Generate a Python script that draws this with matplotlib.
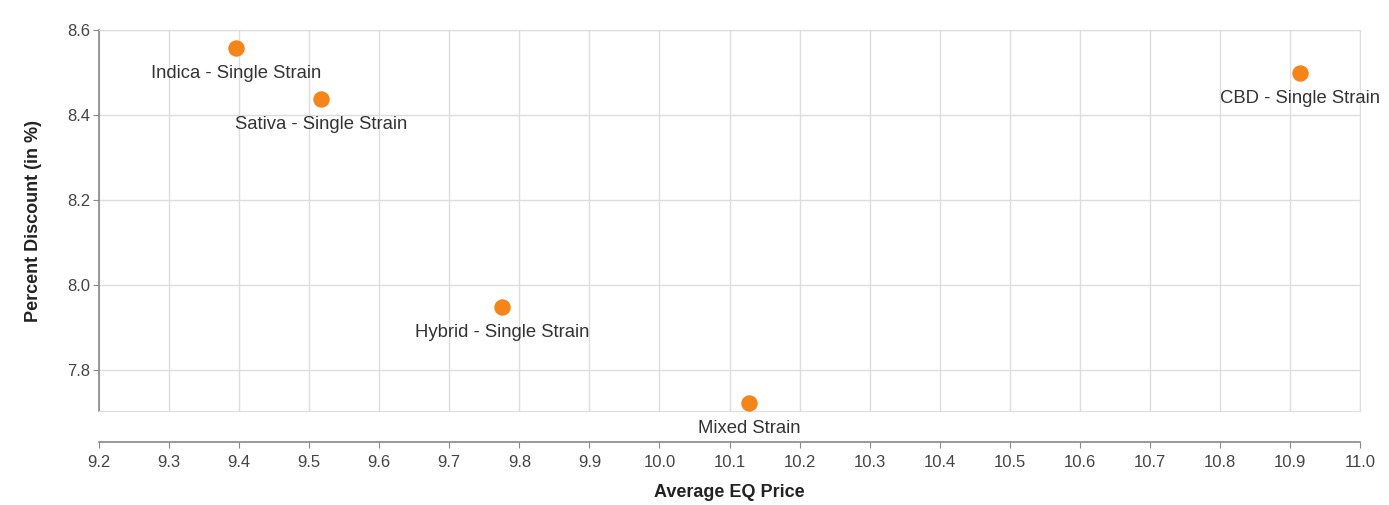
import matplotlib.pyplot as plt
import numpy as np

plt.rcParams['font.family'] = ['Liberation Sans', 'DejaVu Sans']

# data
categories = ["Indica - Single Strain", "Sativa - Single Strain", "Hybrid - Single Strain",
              "Mixed Strain", "CBD - Single Strain"]
avg_price = [9.396, 9.517, 9.775, 10.128, 10.914]
pct_discount = [8.558, 8.438, 7.948, 7.722, 8.499]

x_ticks = np.round(np.arange(9.2, 11.01, 0.1), 1)
y_ticks = [7.8, 8.0, 8.2, 8.4, 8.6]

fig = plt.figure(figsize=(13.89, 5.05), dpi=100)
ax = fig.add_axes([99/1389, 94/505, 1261/1389, 381/505])

ax.scatter(avg_price, pct_discount, s=140, color="#f58518", zorder=3, linewidths=0)
for name, x, y in zip(categories, avg_price, pct_discount):
    ax.annotate(name, (x, y), xytext=(0, -26), textcoords='offset pixels',
                ha='center', va='center', fontsize=13.3, color="#333333", zorder=4)

ax.set_xlim(9.2, 11.0)
ax.set_ylim(7.703, 8.6)
ax.set_xticks(x_ticks)
ax.set_xticklabels([f"{v:.1f}" for v in x_ticks])
ax.set_yticks(y_ticks)
ax.set_yticklabels([f"{v:.1f}" for v in y_ticks])

ax.grid(True, color="#dddddd", linewidth=1)
ax.set_axisbelow(True)
for s in ['top', 'right', 'bottom']:
    ax.spines[s].set_color("#dddddd")
ax.spines['left'].set_color("#888888")
ax.spines['left'].set_linewidth(1.2)

# detached x axis below the plot
ax2 = ax.twiny()
ax2.set_xlim(ax.get_xlim())
ax2.xaxis.set_ticks_position('bottom')
ax2.xaxis.set_label_position('bottom')
ax2.spines['bottom'].set_position(('outward', 22.3))
for s in ['top', 'right', 'left']:
    ax2.spines[s].set_visible(False)
ax2.spines['bottom'].set_color("#888888")
ax2.spines['bottom'].set_linewidth(1.2)
ax2.set_xticks(x_ticks)
ax2.set_xticklabels([f"{v:.1f}" for v in x_ticks])
ax.tick_params(axis='x', bottom=False, labelbottom=False, top=False)

ax2.tick_params(axis='x', colors="#888888", labelcolor="#444444", labelsize=12, length=4.3, pad=5)
ax.tick_params(axis='y', colors="#888888", labelcolor="#444444", labelsize=12, length=4.3, pad=2)

ax2.set_xlabel("Average EQ Price", fontsize=13, fontweight='bold', color="#222222", labelpad=10)
ax.set_ylabel("Percent Discount (in %)", fontsize=13, fontweight='bold', color="#222222", labelpad=18)

fig.savefig("out.png", dpi=100)
